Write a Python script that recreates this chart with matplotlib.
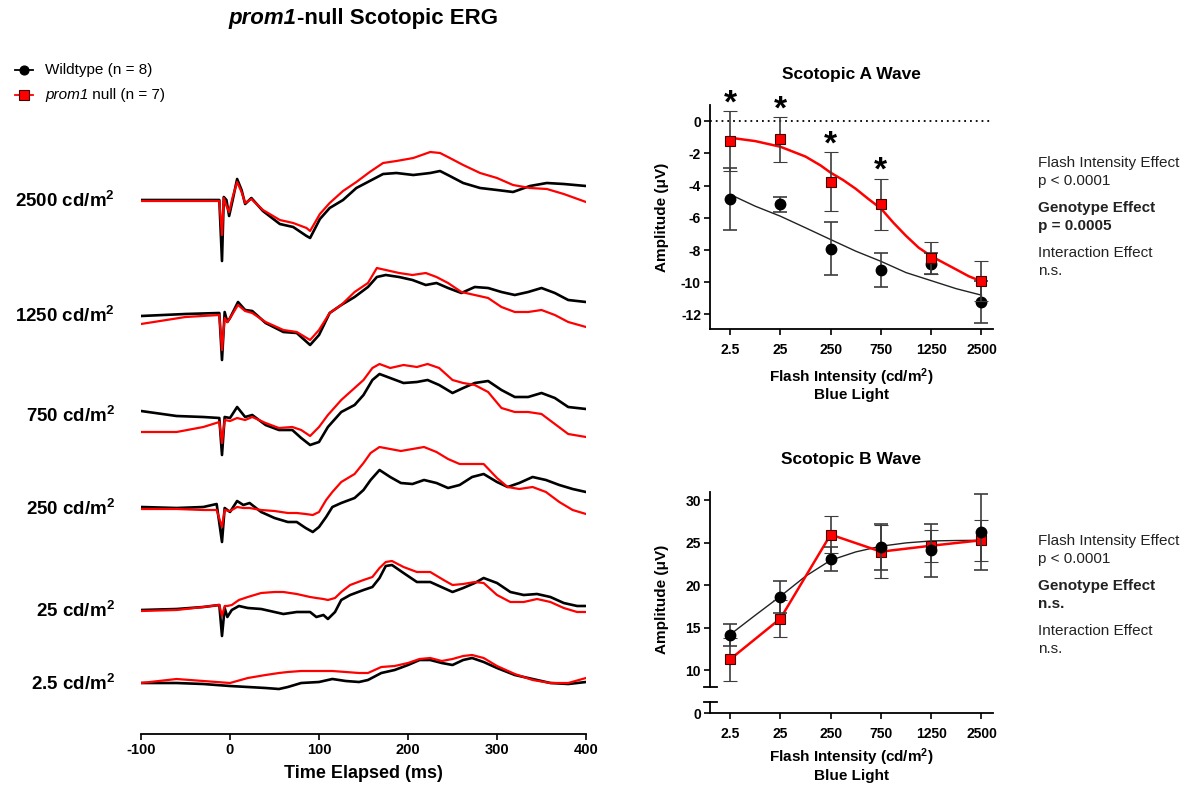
import matplotlib
matplotlib.use("Agg")
import matplotlib.pyplot as plt
from matplotlib.lines import Line2D
import numpy as np

plt.rcParams.update({
    "font.family": "Liberation Sans",
    "mathtext.fontset": "custom",
    "mathtext.rm": "Liberation Sans",
    "mathtext.it": "Liberation Sans:italic",
    "mathtext.bf": "Liberation Sans:bold",
    "axes.unicode_minus": False,
})

# ---------------------------------------------------------------- data
# Averaged scotopic ERG traces (amplitude, arbitrary units) per flash intensity
t_2500 = [-100, -60, -30, -12, -9, -7, -4, -1, 3, 8, 13, 17, 24, 37, 56, 71, 86, 90, 101,
          112, 127, 142, 157, 172, 187, 206, 225, 236, 247, 262, 281, 300, 318, 337, 356, 375, 400]
wt_2500 = [0, 0, 0, 0, -61, 3, 0, -16, 0, 21, 10, -4, 2, -11, -24, -27, -36, -38, -19,
           -8, 0, 12, 19, 26, 27, 25, 27, 29, 24, 17, 12, 10, 8, 14, 17, 16, 14]
null_2500 = [-1, -1, -1, -1, -35, 2, -6, -12, 3, 18, 8, -3, 1, -10, -20, -23, -28, -31, -14,
             -3, 9, 18, 28, 37, 39, 42, 48, 47, 42, 35, 27, 22, 15, 12, 11, 6, -2]

t_1250 = [-100, -50, -12, -9, -6, -3, 0, 9, 17, 25, 40, 60, 75, 90, 100, 112, 125, 140, 155,
          165, 175, 190, 205, 220, 232, 245, 260, 275, 290, 305, 320, 335, 350, 365, 380, 400]
wt_1250 = [-1, 1, 2, -45, 3, -7, -3, 13, 5, 4, -8, -17, -18, -30, -20, 2, 10, 18, 28,
           38, 40, 38, 35, 30, 32, 27, 22, 28, 27, 23, 20, 23, 27, 22, 15, 13]
null_1250 = [-9, -2, 0, -35, -3, -7, -3, 10, 4, 2, -7, -15, -17, -25, -15, 2, 10, 23, 32,
             47, 45, 42, 40, 42, 38, 32, 23, 20, 17, 8, 3, 3, 5, 0, -7, -12]

t_750 = [-100, -60, -30, -12, -9, -6, 0, 8, 17, 25, 40, 55, 70, 80, 90, 100, 110, 125, 140,
         150, 160, 168, 180, 195, 210, 222, 235, 250, 262, 275, 290, 305, 320, 335, 350, 365, 380, 400]
wt_750 = [4, -1, -2, -3, -40, -2, -3, 8, -2, 0, -10, -15, -15, -23, -30, -27, -12, 3, 10,
          20, 35, 41, 37, 32, 33, 35, 30, 22, 27, 32, 34, 25, 18, 18, 22, 17, 8, 6]
null_750 = [-17, -17, -12, -7, -28, -5, -6, -3, -5, -2, -8, -13, -12, -15, -21, -12, 0, 15, 27,
            35, 47, 51, 47, 50, 48, 51, 47, 35, 32, 30, 23, 7, 3, 3, 1, -9, -19, -22]

t_250 = [-100, -60, -30, -15, -9, -6, 0, 8, 15, 22, 35, 50, 65, 75, 85, 93, 100, 108, 115, 125,
         140, 150, 158, 168, 180, 192, 205, 218, 232, 245, 258, 272, 285, 300, 312, 325, 340,
         355, 370, 385, 400]
wt_250 = [1, 0, 1, 4, -34, 0, -4, 7, 3, 5, -4, -10, -14, -14, -20, -24, -19, -9, 1, 5,
          10, 18, 28, 38, 31, 25, 24, 28, 25, 20, 23, 31, 34, 26, 21, 25, 31, 28, 23, 19, 16]
null_250 = [-1, -1, -2, -2, -19, -2, -3, 1, 0, 0, -2, -3, -5, -5, -6, -7, -4, 8, 16, 26,
            34, 45, 55, 61, 59, 57, 59, 61, 56, 49, 44, 44, 44, 30, 21, 19, 21, 16, 6, -2, -6]

t_25 = [-100, -60, -30, -12, -9, -6, -3, 2, 10, 20, 35, 50, 60, 75, 90, 97, 105, 110, 118, 125,
        135, 150, 160, 168, 175, 182, 195, 210, 225, 240, 250, 262, 275, 285, 300, 315, 330,
        345, 360, 375, 390, 400]
wt_25 = [0, 1, 3, 5, -26, 2, -7, 0, 4, 2, 1, -2, -4, -2, -2, -7, -5, -9, -2, 10,
         15, 20, 23, 32, 44, 45, 37, 28, 28, 22, 18, 22, 27, 32, 27, 18, 15, 16, 13, 7, 4, 4]
null_25 = [-1, 0, 3, 5, -6, 4, 4, 5, 10, 13, 17, 18, 18, 16, 13, 12, 11, 10, 12, 18,
           25, 30, 33, 42, 48, 49, 43, 38, 38, 30, 25, 26, 28, 27, 15, 8, 8, 11, 8, 2, -2, -2]

t_2p5 = [-100, -60, -30, 0, 20, 40, 55, 65, 80, 100, 115, 130, 145, 155, 170, 185, 200, 213,
         225, 238, 250, 262, 272, 285, 300, 320, 340, 360, 380, 400]
wt_2p5 = [0, 0, -1, -3, -4, -5, -6, -4, 0, 1, 4, 2, 1, 3, 10, 13, 18, 23,
          23, 20, 18, 23, 25, 21, 15, 8, 4, 0, -1, 1]
null_2p5 = [0, 4, 2, 0, 5, 8, 10, 11, 12, 12, 12, 11, 10, 10, 16, 17, 20, 24,
            25, 22, 24, 27, 28, 25, 17, 9, 3, 0, 0, 5]

trace_labels = ["2500", "1250", "750", "250", "25", "2.5"]
time_ticks = [-100, 0, 100, 200, 300, 400]

# Summary amplitudes (mean +/- SEM) per flash intensity
intensities = ["2.5", "25", "250", "750", "1250", "2500"]

a_wt_mean = [-4.82, -5.17, -7.91, -9.25, -8.84, -11.22]
a_wt_sem = [1.91, 0.48, 1.63, 1.04, 0.64, 1.30]
a_null_mean = [-1.24, -1.14, -3.75, -5.15, -8.49, -9.94]
a_null_sem = [1.86, 1.40, 1.82, 1.58, 1.00, 1.24]
a_significant = [True, True, True, True, False, False]

a_wt_fit_x = [0, 0.5, 1, 1.5, 2, 2.5, 3, 3.5, 4, 4.5, 5]
a_wt_fit = [-4.55, -5.28, -5.9, -6.62, -7.35, -8.07, -8.7, -9.4, -9.9, -10.4, -10.8]
a_null_fit_x = [0, 0.5, 1, 1.5, 1.8, 2, 2.25, 2.5, 2.75, 3, 3.25, 3.5, 3.75, 4, 4.5, 4.75, 5]
a_null_fit = [-1.03, -1.24, -1.59, -2.2, -2.75, -3.2, -3.66, -4.2, -4.83, -5.42, -6.31,
              -7.12, -7.85, -8.38, -9.21, -9.63, -9.94]

b_wt_mean = [14.2, 18.63, 23.06, 24.5, 24.1, 26.27]
b_wt_sem = [1.3, 1.84, 1.38, 2.75, 3.12, 4.5]
b_null_mean = [11.29, 16.08, 25.96, 23.95, 24.65, 25.29]
b_null_sem = [2.55, 2.16, 2.16, 3.1, 1.9, 2.4]

b_wt_fit_x = [0, 0.5, 1, 1.5, 2, 2.5, 3, 3.5, 4, 4.5, 5]
b_wt_fit = [14.2, 16.47, 18.7, 21.06, 22.94, 23.92, 24.59, 24.98, 25.21, 25.26, 25.29]

a_stats = [("Flash Intensity Effect", "p < 0.0001", False),
           ("Genotype Effect", "p = 0.0005", True),
           ("Interaction Effect", "n.s.", False)]
b_stats = [("Flash Intensity Effect", "p < 0.0001", False),
           ("Genotype Effect", "n.s.", True),
           ("Interaction Effect", "n.s.", False)]

# ---------------------------------------------------------------- layout
W, H = 1190, 790
RED = "#ff0000"
RED_EDGE = "#400000"
EBAR = "#3c3c3c"


def box(l, t, r, b):
    return [l / W, 1 - b / H, (r - l) / W, (b - t) / H]


def fx(x):
    return x / W


def fy(y):
    return 1 - y / H


fig = plt.figure(figsize=(W / 100, H / 100), dpi=100)


def mixed_text(x, y, italic_part, rest, size, weight, ha="left"):
    """Italic gene symbol followed by upright text, sharing one baseline."""
    a = fig.text(x, y, italic_part, ha="left", va="baseline", fontsize=size,
                 fontweight=weight, fontstyle="italic")
    b = fig.text(0, 0, rest, ha="left", va="baseline", fontsize=size, fontweight=weight)
    fig.canvas.draw()
    r = fig.canvas.get_renderer()
    wa = a.get_window_extent(r).width / fig.bbox.width
    wb = b.get_window_extent(r).width / fig.bbox.width
    x0 = x - (wa + wb) / 2 if ha == "center" else x
    a.set_x(x0)
    b.set_position((x0 + wa, y))


# title and legend
mixed_text(fx(363), fy(24), "prom1", "-null Scotopic ERG", 16, "bold", ha="center")

for ly, col, mk in [(70, "black", "o"), (95, RED, "s")]:
    fig.add_artist(Line2D([fx(15), fx(24), fx(33)], [fy(ly)] * 3, color=col, lw=1.3,
                          marker=mk, markevery=[1], ms=6.5,
                          mfc=col, mec="black" if mk == "o" else RED_EDGE, mew=0.8))
fig.text(fx(45), fy(74), "Wildtype (n = 8)", ha="left", va="baseline", fontsize=11)
mixed_text(fx(45), fy(99), "prom1", " null (n = 7)", 11, "normal")

# ---------------------------------------------------------------- traces
ax = fig.add_axes(box(141, 140, 586, 734))
ax.set_xlim(-100, 400)
ax.set_ylim(0, 594)
row_y = [200, 315, 415, 508, 610, 683]
traces = [(t_2500, wt_2500, null_2500), (t_1250, wt_1250, null_1250),
          (t_750, wt_750, null_750), (t_250, wt_250, null_250),
          (t_25, wt_25, null_25), (t_2p5, wt_2p5, null_2p5)]
for (t, wt, nl), ry, lab in zip(traces, row_y, trace_labels):
    base = 734 - ry
    ax.plot(t, base + np.asarray(wt), color="black", lw=1.9, zorder=2)
    ax.plot(t, base + np.asarray(nl), color=RED, lw=1.6, zorder=3)
    fig.text(fx(115), fy(ry + 1), lab + r" cd/m$^\mathbf{2}$", ha="right", va="center",
             fontsize=13.5, fontweight="bold")

for s in ("left", "right", "top"):
    ax.spines[s].set_visible(False)
ax.spines["bottom"].set_linewidth(1.3)
ax.set_yticks([])
ax.set_xticks(time_ticks)
ax.set_xticklabels([str(v) for v in time_ticks], fontsize=10.5, fontweight="bold")
ax.tick_params(axis="x", length=4, width=1.2, pad=2.5)
ax.set_xlabel("Time Elapsed (ms)", fontsize=13, fontweight="bold", labelpad=6)
ax.patch.set_alpha(0)


def style_axis(a):
    for s in ("right", "top"):
        a.spines[s].set_visible(False)
    for s in ("left", "bottom"):
        a.spines[s].set_linewidth(1.3)
    a.tick_params(length=4, width=1.2, labelsize=10)
    for lab in a.get_xticklabels() + a.get_yticklabels():
        lab.set_fontweight("bold")


xpos = np.arange(len(intensities))
err_kw = dict(ecolor=EBAR, elinewidth=1.2, capsize=5, capthick=1.2)

# ---------------------------------------------------------------- A wave
axA = fig.add_axes(box(710, 105, 993, 329))
axA.set_xlim(-0.4, 5.23)
axA.set_ylim(-12.9, 1.0)
axA.axhline(0, color="black", lw=1.3, ls=(0, (1, 2.2)), zorder=1)
axA.plot(a_wt_fit_x, a_wt_fit, color="#222222", lw=1.0, zorder=2)
axA.plot(a_null_fit_x, a_null_fit, color=RED, lw=1.8, zorder=2)
axA.errorbar(xpos, a_wt_mean, yerr=a_wt_sem, fmt="o", color="black", ms=7.5,
             zorder=3, **err_kw)
axA.errorbar(xpos, a_null_mean, yerr=a_null_sem, fmt="s", mfc=RED, mec=RED_EDGE,
             mew=0.8, ms=7.5, zorder=4, **err_kw)
for i, sig in enumerate(a_significant):
    if sig:
        axA.annotate("*", (xpos[i], a_null_mean[i] + a_null_sem[i]), xytext=(0, -1),
                     textcoords="offset points", ha="center", va="baseline",
                     fontsize=24, fontweight="bold")
axA.set_yticks(range(0, -13, -2))
axA.set_xticks(xpos)
axA.set_xticklabels(intensities)
style_axis(axA)
axA.tick_params(axis="x", pad=6)
axA.tick_params(axis="y", pad=2.5)
axA.set_title("Scotopic A Wave", fontsize=12.5, fontweight="bold", pad=19)
axA.set_ylabel("Amplitude (\u03bcV)", fontsize=11, fontweight="bold", va="center")
axA.yaxis.set_label_coords(-0.17, 0.5)
axA.set_xlabel("Flash Intensity (cd/m$^\\mathbf{2}$)\nBlue Light", fontsize=11,
               fontweight="bold", linespacing=1.05)
axA.xaxis.set_label_coords(0.5, -0.165)

# ---------------------------------------------------------------- B wave
axB = fig.add_axes(box(710, 491.7, 993, 687.3))
axB0 = fig.add_axes(box(710, 701.7, 993, 713.3), sharex=axB)
axB.set_xlim(-0.4, 5.23)
axB.set_ylim(8, 31)
axB0.set_ylim(0, 11.6 / 8.5)
axB.plot(b_wt_fit_x, b_wt_fit, color="#222222", lw=1.0, zorder=2)
axB.errorbar(xpos, b_null_mean, yerr=b_null_sem, fmt="-s", color=RED, lw=1.8,
             mfc=RED, mec=RED_EDGE, mew=0.8, ms=7.5, zorder=3, **err_kw)
axB.errorbar(xpos, b_wt_mean, yerr=b_wt_sem, fmt="o", color="black", ms=7.5,
             zorder=4, **err_kw)
axB.set_yticks([10, 15, 20, 25, 30])
axB.spines["bottom"].set_visible(False)
axB.tick_params(axis="x", bottom=False, labelbottom=False)
style_axis(axB)
axB.tick_params(axis="y", pad=2.5)
axB0.set_yticks([0])
axB0.set_xticks(xpos)
axB0.set_xticklabels(intensities)
style_axis(axB0)
axB0.tick_params(axis="x", pad=6)
axB0.tick_params(axis="y", pad=2.5)
axB0.patch.set_alpha(0)
axB.set_title("Scotopic B Wave", fontsize=12.5, fontweight="bold", pad=20)
axB.set_ylabel("Amplitude (\u03bcV)", fontsize=11, fontweight="bold", va="center")
axB.yaxis.set_label_coords(-0.17, 0.45)
axB0.set_xlabel("Flash Intensity (cd/m$^\\mathbf{2}$)\nBlue Light", fontsize=11,
                fontweight="bold", linespacing=1.05)

# axis-break marks
for yb in (687.3, 701.7):
    fig.add_artist(Line2D([fx(704), fx(717)], [fy(yb)] * 2, color="black", lw=1.3))

# ---------------------------------------------------------------- statistics text
for top, stats in ((163, a_stats), (541, b_stats)):
    y = top
    for head, val, bold in stats:
        w = "bold" if bold else "normal"
        fig.text(fx(1038), fy(y), head, ha="left", va="center", fontsize=11, fontweight=w,
                 color="#222222")
        fig.text(fx(1038), fy(y + 18), val, ha="left", va="center", fontsize=11,
                 fontweight=w, color="#222222")
        y += 45

fig.savefig("out.png", dpi=100)
